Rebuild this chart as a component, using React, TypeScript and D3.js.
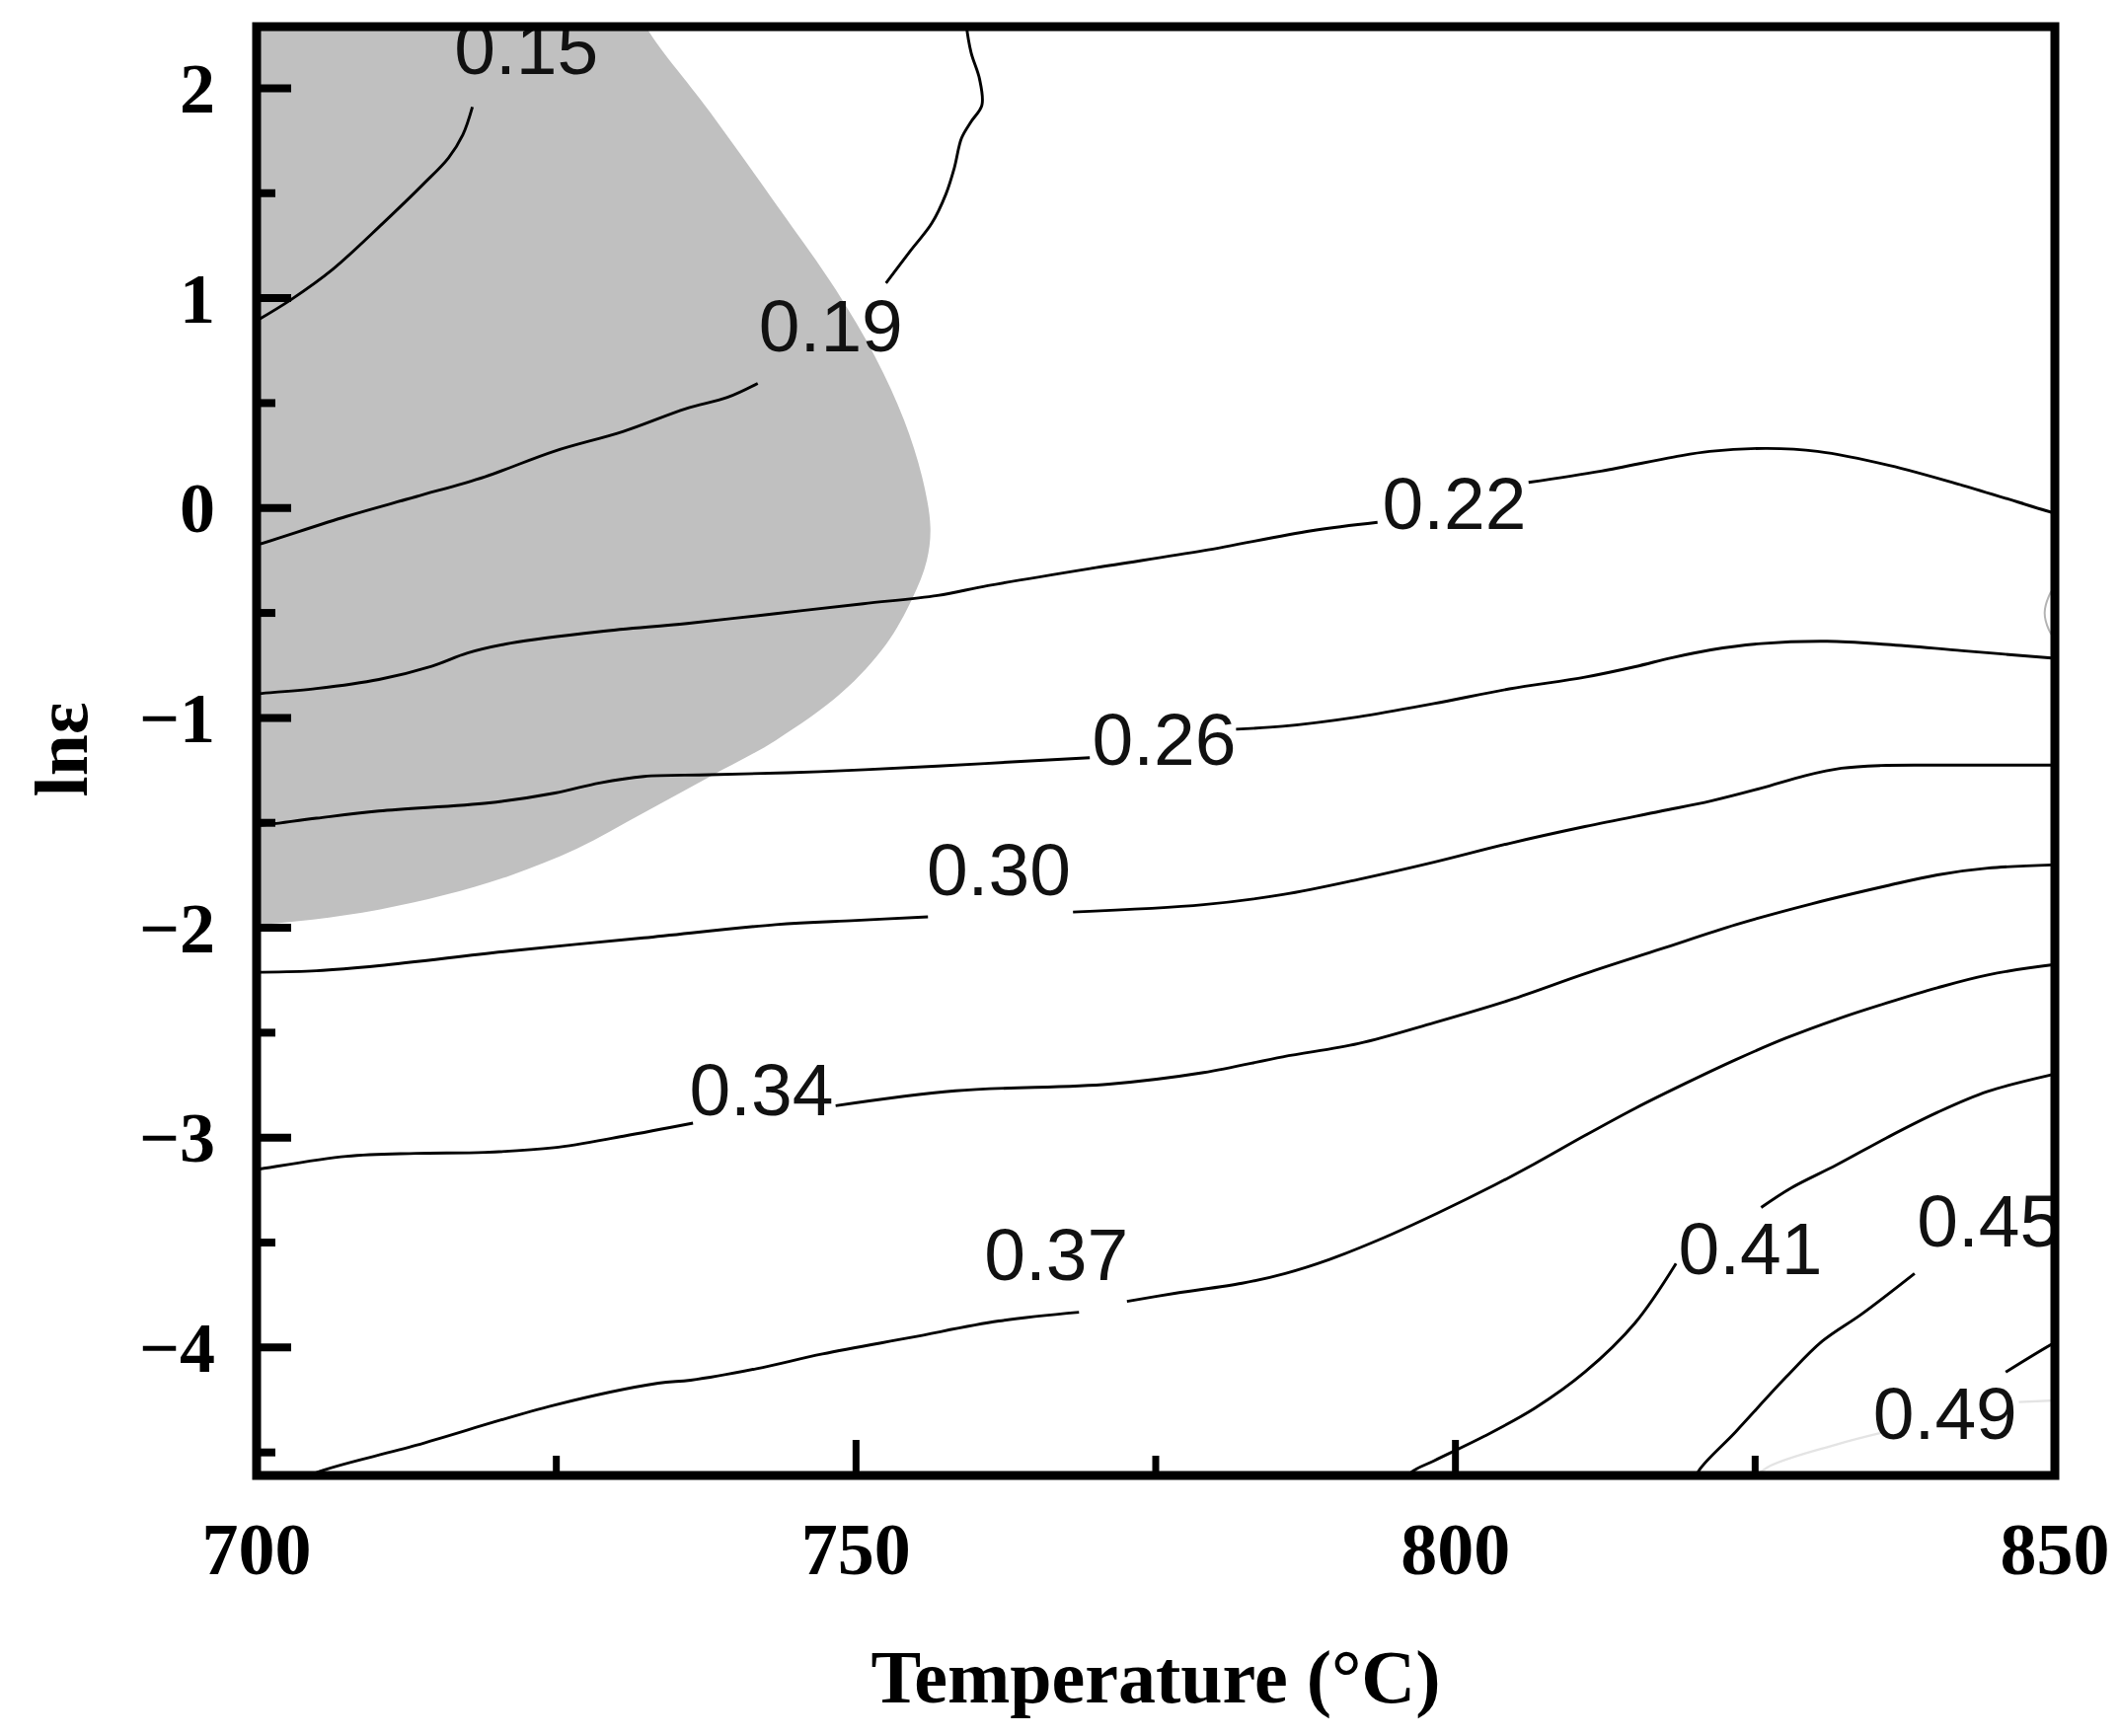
import { useEffect, useRef } from 'react';
import * as d3 from 'd3';

type Pt = [number, number];

// axes
const tempRange: Pt = [700, 850];
const lnRange: Pt = [-4.605, 2.303];
const xMajor = [700, 750, 800, 850];
const xMinor = [725, 775, 825];
const yMajor = [-4, -3, -2, -1, 0, 1, 2];
const yMinor = [-4.5, -3.5, -2.5, -1.5, -0.5, 0.5, 1.5];

// grey (instability) domain, edge from the top border round to the left border
const greyEdge: Pt[] = [
  [731.8, 2.42], [732.4, 2.303], [737.8, 1.888], [744.1, 1.386], [748.3, 1.041], [751.6, 0.72],
  [754.0, 0.42], [755.5, 0.15], [756.2, -0.09], [755.9, -0.25], [754.7, -0.43], [752.5, -0.65],
  [748.8, -0.88], [743.3, -1.107], [737.8, -1.28], [732.3, -1.452], [726.7, -1.624], [721.2, -1.75],
  [715.7, -1.844], [710.2, -1.914], [704.7, -1.961], [700.3, -1.985], [699, -1.99],
];

// contour lines [T, ln strain rate], split where the labels sit
const c15: Pt[][] = [
  [[699, 0.86], [700, 0.892], [702.9, 0.994], [706.3, 1.135], [710.5, 1.355], [713.9, 1.543], [716, 1.668],
   [717.2, 1.778], [718, 1.911]],
];
const c19: Pt[][] = [
  [[759.1, 2.4], [759.2, 2.303], [759.6, 2.17], [760.3, 2.045], [760.5, 1.919], [759.6, 1.841], [758.8, 1.762],
   [758.2, 1.621], [757.5, 1.496], [756.3, 1.355], [754.6, 1.23], [752.5, 1.072]],
  [[741.8, 0.594], [739.26, 0.527], [735.8, 0.473], [730.6, 0.365], [724.8, 0.27], [719.05, 0.149],
   [713.3, 0.054], [707.5, -0.04], [700, -0.176], [699, -0.19]],
];
const c22: Pt[][] = [
  [[699, -0.89], [700, -0.885], [705, -0.86], [710.2, -0.817], [714.6, -0.754], [717.6, -0.691], [721.2, -0.644],
   [728.6, -0.589], [735.9, -0.55], [743.3, -0.503], [750.6, -0.456], [756.8, -0.417], [761, -0.37],
   [770, -0.284], [779, -0.203], [788, -0.108], [793.5, -0.068]],
  [[806.1, 0.122], [812.15, 0.176], [818.2, 0.243], [821.2, 0.27], [826, 0.284], [830.2, 0.27],
   [836.2, 0.203], [842.3, 0.108], [850, -0.025], [851, -0.04]],
];
const edgeArc: Pt[][] = [
  [[850.3, -0.35], [849.5, -0.42], [849.15, -0.5], [849.5, -0.58], [850.3, -0.645]],
];
const c26: Pt[][] = [
  [[699, -1.515], [700, -1.514], [705, -1.478], [710.2, -1.444], [719.4, -1.405], [724.9, -1.358], [728.6, -1.31],
   [732.3, -1.279], [737.8, -1.271], [747, -1.256], [756.8, -1.23], [763, -1.21], [769.5, -1.19]],
  [[781.7, -1.054], [785.6, -1.04], [791.9, -0.995], [798.2, -0.932], [804.5, -0.862], [810.8, -0.806],
   [815, -0.756], [818, -0.714], [821.3, -0.676], [825.5, -0.646], [831, -0.635], [836, -0.65],
   [842.3, -0.68], [850, -0.716], [851, -0.72]],
];
const c30: Pt[][] = [
  [[699, -2.212], [700.3, -2.212], [705, -2.205], [710.2, -2.181], [721.2, -2.11], [732.3, -2.048],
   [743.3, -1.985], [750, -1.965], [756, -1.948]],
  [[768.1, -1.925], [779, -1.89], [785.6, -1.842], [791.9, -1.77], [798.2, -1.688], [804.5, -1.598],
   [810.8, -1.518], [817.1, -1.445], [821.3, -1.396], [825.5, -1.335], [829.2, -1.275], [832.2, -1.24],
   [835.5, -1.227], [840.2, -1.225], [850, -1.225], [851, -1.225]],
];
const c34: Pt[][] = [
  [[699, -3.16], [700, -3.152], [707.5, -3.089], [713.3, -3.075], [719.05, -3.07], [724.8, -3.048],
   [730.6, -2.993], [736.4, -2.931]],
  [[748.3, -2.848], [758.3, -2.777], [771.1, -2.745], [779, -2.69], [785.6, -2.615], [791.9, -2.552],
   [798.2, -2.453], [804.5, -2.345], [810.8, -2.219], [817.1, -2.102], [823.4, -1.985], [829.7, -1.886],
   [836, -1.8], [840.2, -1.748], [844.4, -1.716], [850, -1.7], [851, -1.699]],
];
const c37: Pt[][] = [
  [[703.5, -4.65], [704.6, -4.605], [713.3, -4.466], [724.8, -4.275], [733.5, -4.17], [736.2, -4.156],
   [741.7, -4.101], [747.2, -4.031], [754.6, -3.952], [761.9, -3.874], [768.6, -3.832]],
  [[772.6, -3.78], [776.7, -3.741], [782.2, -3.694], [785.8, -3.647], [789.5, -3.58], [793.9, -3.48],
   [798.5, -3.36], [803.3, -3.225], [806.6, -3.125], [810.8, -2.99], [815, -2.86], [819.2, -2.741],
   [823.4, -2.628], [827.6, -2.525], [831.8, -2.436], [836, -2.358], [840.2, -2.286], [844.4, -2.225],
   [850, -2.175], [851, -2.17]],
];
const c41: Pt[][] = [
  [[795.8, -4.65], [796.3, -4.596], [798.2, -4.54], [802.4, -4.423], [806.6, -4.29], [810.8, -4.117],
   [815, -3.882], [818.4, -3.6]],
  [[825.5, -3.333], [828, -3.24], [831.8, -3.13], [836, -3.0], [840.2, -2.88], [844.4, -2.78],
   [850, -2.697], [851, -2.685]],
];
const c45: Pt[][] = [
  [[819.9, -4.65], [820.3, -4.587], [823.4, -4.4], [827.6, -4.14], [830.6, -3.97], [833.9, -3.84], [838.3, -3.647]],
];
const c49: Pt[][] = [
  [[845.9, -4.117], [850, -3.976], [851, -3.95]],
];
const c49Faint: Pt[][] = [
  [[824.5, -4.65], [826, -4.572], [831.8, -4.462], [836, -4.4]],
  [[847, -4.26], [851, -4.25]],
];

// contour labels
const levels = ['0.15', '0.19', '0.22', '0.26', '0.30', '0.34', '0.37', '0.41', '0.45', '0.49'];
const labelT = [722.5, 747.9, 799.9, 775.7, 761.9, 742.1, 766.7, 824.6, 844.5, 840.85];
const labelLn = [2.195, 0.873, 0.025, -1.095, -1.719, -2.768, -3.553, -3.525, -3.391, -4.309];

const App = () => {
  const svgRef = useRef<SVGSVGElement>(null);

  useEffect(() => {
    const w = 2148;
    const h = 1759;
    const margin = { top: 25, right: 66, bottom: 265, left: 260 };
    const width = w - margin.left - margin.right;
    const height = h - margin.top - margin.bottom;

    const svg = d3.select(svgRef.current);
    svg.selectAll('*').remove();

    const x = d3.scaleLinear().domain(tempRange).range([margin.left, margin.left + width]);
    const y = d3.scaleLinear().domain(lnRange).range([margin.top + height, margin.top]);

    svg.append('defs').append('clipPath').attr('id', 'plotClip')
      .append('rect')
      .attr('x', margin.left).attr('y', margin.top)
      .attr('width', width).attr('height', height);

    const plot = svg.append('g').attr('clip-path', 'url(#plotClip)');

    const line = d3.line<Pt>()
      .x(d => x(d[0]))
      .y(d => y(d[1]))
      .curve(d3.curveCatmullRom.alpha(0.5));

    // grey domain
    const last = greyEdge[greyEdge.length - 1];
    plot.append('path')
      .attr('d', line(greyEdge) + `L${x(last[0])},${y(last[1])}L${x(699)},${y(2.42)}Z`)
      .attr('fill', '#c0c0c0');

    // contour lines
    const allSegs = [c15, c19, c22, c26, c30, c34, c37, c41, c45, c49].flat();
    plot.append('g')
      .selectAll('path')
      .data(allSegs)
      .enter().append('path')
      .attr('d', d => line(d))
      .attr('fill', 'none')
      .attr('stroke', '#000')
      .attr('stroke-width', 2.9);

    plot.append('g')
      .selectAll('path')
      .data(edgeArc)
      .enter().append('path')
      .attr('d', d => line(d))
      .attr('fill', 'none')
      .attr('stroke', '#b4b4b4')
      .attr('stroke-width', 2);

    plot.append('g')
      .selectAll('path')
      .data(c49Faint)
      .enter().append('path')
      .attr('d', d => line(d))
      .attr('fill', 'none')
      .attr('stroke', '#e4e4e4')
      .attr('stroke-width', 2.4);

    // contour labels
    plot.append('g')
      .selectAll('text')
      .data(levels)
      .enter().append('text')
      .attr('x', (_, i) => x(labelT[i]))
      .attr('y', (_, i) => y(labelLn[i]))
      .attr('dy', '0.36em')
      .attr('text-anchor', 'middle')
      .style('font-family', "'Liberation Sans', Arial, sans-serif")
      .style('font-size', '75px')
      .attr('fill', '#111')
      .text(d => d);

    // ticks, pointing inwards
    const ticks = svg.append('g').attr('stroke', '#000');
    ticks.selectAll('.ym').data(yMajor).enter().append('line')
      .attr('x1', margin.left).attr('x2', margin.left + 35)
      .attr('y1', d => y(d)).attr('y2', d => y(d))
      .attr('stroke-width', 8);
    ticks.selectAll('.yn').data(yMinor).enter().append('line')
      .attr('x1', margin.left).attr('x2', margin.left + 19)
      .attr('y1', d => y(d)).attr('y2', d => y(d))
      .attr('stroke-width', 8);
    ticks.selectAll('.xm').data(xMajor).enter().append('line')
      .attr('x1', d => x(d)).attr('x2', d => x(d))
      .attr('y1', margin.top + height).attr('y2', margin.top + height - 35)
      .attr('stroke-width', 7);
    ticks.selectAll('.xn').data(xMinor).enter().append('line')
      .attr('x1', d => x(d)).attr('x2', d => x(d))
      .attr('y1', margin.top + height).attr('y2', margin.top + height - 19)
      .attr('stroke-width', 7);

    // frame
    svg.append('rect')
      .attr('x', margin.left).attr('y', margin.top + 2)
      .attr('width', width).attr('height', height - 1)
      .attr('fill', 'none')
      .attr('stroke', '#000')
      .attr('stroke-width', 9);

    const serif = "'Liberation Serif', 'Times New Roman', serif";

    // tick labels
    svg.append('g')
      .selectAll('text')
      .data(yMajor)
      .enter().append('text')
      .attr('x', 218)
      .attr('y', d => y(d))
      .attr('dy', '0.34em')
      .attr('text-anchor', 'end')
      .style('font-family', serif)
      .style('font-weight', 'bold')
      .style('font-size', '72px')
      .text(d => (d < 0 ? '\u2212' + Math.abs(d) : String(d)));

    svg.append('g')
      .selectAll('text')
      .data(xMajor)
      .enter().append('text')
      .attr('x', d => x(d))
      .attr('y', 1595)
      .attr('text-anchor', 'middle')
      .style('font-family', serif)
      .style('font-weight', 'bold')
      .style('font-size', '74px')
      .text(d => d);

    // axis titles
    svg.append('text')
      .attr('x', margin.left + width / 2)
      .attr('y', 1725)
      .attr('text-anchor', 'middle')
      .style('font-family', serif)
      .style('font-weight', 'bold')
      .style('font-size', '76px')
      .text('Temperature (°C)');

    svg.append('text')
      .attr('transform', `translate(88, ${margin.top + height / 2}) rotate(-90)`)
      .attr('text-anchor', 'middle')
      .style('font-family', serif)
      .style('font-weight', 'bold')
      .style('font-size', '76px')
      .text('lnε');
  }, []);

  return (
    <svg
      ref={svgRef}
      width={2148}
      height={1759}
      style={{ position: 'absolute', left: 0, top: 0, background: '#fff' }}
    ></svg>
  );
};

export default App;
